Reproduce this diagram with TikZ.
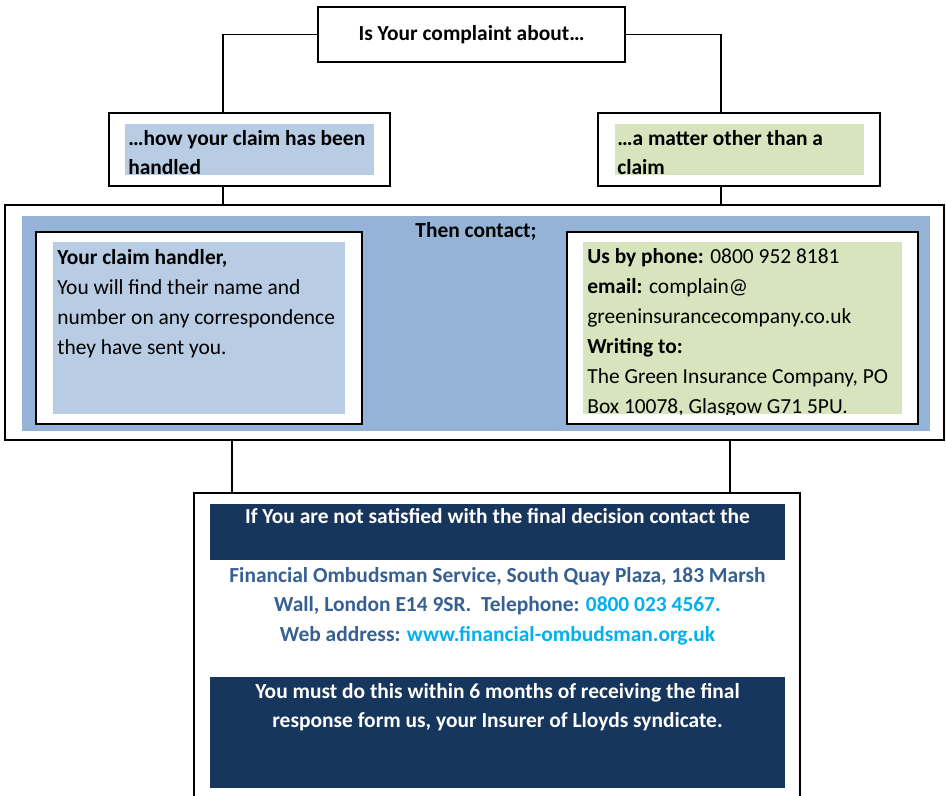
\documentclass[tikz,border=0pt]{standalone}
\usepackage{fontspec}
\setmainfont{Carlito}

\definecolor{midblue}{HTML}{95B3D7}
\definecolor{paleblue}{HTML}{B8CCE4}
\definecolor{palegreen}{HTML}{D7E4BD}
\definecolor{navy}{HTML}{17365D}
\definecolor{fosblue}{HTML}{376092}
\definecolor{fossky}{HTML}{00B0F0}

\begin{document}
\begin{tikzpicture}[x=0.02cm,y=-0.02cm,
  box/.style={draw, line width=1.1pt, fill=white, inner sep=0pt},
  pane/.style={inner sep=0pt},
  txt/.style={anchor=base west, inner sep=0pt, font=\fontsize{12.2}{14}\selectfont},
  ctxt/.style={anchor=base, inner sep=0pt, font=\fontsize{12.2}{14}\selectfont\bfseries},
  link/.style={line width=0.9pt}]
\useasboundingbox (0,0) rectangle (946,795);
%
% question
\node[box, minimum width=6.14cm, minimum height=1.1cm,
      font=\fontsize{12.2}{14}\selectfont\bfseries] (top) at (471.5,34.5) {Is Your complaint about…};

% the two answers
\node[box, minimum width=5.62cm, minimum height=1.46cm] (hand) at (249.5,149.5) {};
\node[pane, fill=paleblue, minimum width=4.98cm, minimum height=1.02cm] (handfill) at (249.5,149.5) {};
\node[txt, font=\fontsize{12.2}{14}\selectfont\bfseries] (hand1) at (128,145) {…how your claim has been};
\node[txt, font=\fontsize{12.2}{14}\selectfont\bfseries] (hand2) at (128,174) {handled};

\node[box, minimum width=5.64cm, minimum height=1.46cm] (other) at (739,149.5) {};
\node[pane, fill=palegreen, minimum width=4.98cm, minimum height=1.02cm] (otherfill) at (739.5,149.5) {};
\node[txt, font=\fontsize{12.2}{14}\selectfont\bfseries] (other1) at (617,145) {…a matter other than a};
\node[txt, font=\fontsize{12.2}{14}\selectfont\bfseries] (other2) at (617,174) {claim};

% then contact
\node[box, minimum width=18.78cm, minimum height=4.7cm] (mid) at (474.5,322.5) {};
\node[pane, fill=midblue, minimum width=18.16cm, minimum height=4.3cm] (midfill) at (476,323.5) {};
\node[ctxt] (then) at (476,237) {Then contact;};

% claim handler
\node[box, minimum width=6.52cm, minimum height=3.84cm] (ch) at (199,328) {};
\node[pane, fill=paleblue, minimum width=5.84cm, minimum height=3.44cm] (chfill) at (199,328) {};
\node[txt, font=\fontsize{12.2}{14}\selectfont\bfseries] (ch0) at (57,264) {Your claim handler,};
\foreach \t [count=\i] in {You will find their name and, number on any correspondence, they have sent you.}
  \node[txt] (ch\i) at (57,264+30*\i) {\t};

% us
\node[box, minimum width=7.02cm, minimum height=3.84cm] (us) at (742.5,328) {};
\node[pane, fill=palegreen, minimum width=6.38cm, minimum height=3.44cm] (usfill) at (742.5,328) {};
\begin{scope}
\clip (usfill.south west) rectangle (usfill.north east);
\node[txt] (us1) at (587,263) {\textbf{Us by phone:} 0800 952 8181};
\node[txt] (us2) at (587,293) {\textbf{email:} complain@};
\node[txt] (us3) at (587,323) {greeninsurancecompany.co.uk};
\node[txt] (us4) at (587,353) {\textbf{Writing to:}};
\node[txt] (us5) at (587,383) {The Green Insurance Company, PO};
\node[txt] (us6) at (587,413) {Box 10078, Glasgow G71 5PU.};
\end{scope}

% ombudsman
\node[box, minimum width=12.12cm, minimum height=6.74cm] (fos) at (497,661.5) {};
\node[pane, fill=navy, minimum width=11.5cm, minimum height=1.12cm] (navy1) at (497.5,532) {};
\node[ctxt, text=white] (fos0) at (497.5,523) {If You are not satisfied with the final decision contact the};
\node[ctxt, text=fosblue] (fos1) at (497.5,582) {Financial Ombudsman Service, South Quay Plaza, 183 Marsh};
\node[ctxt, text=fosblue] (fos2) at (497.5,611) {Wall, London E14 9SR.\ \ Telephone: \textcolor{fossky}{0800 023 4567.}};
\node[ctxt, text=fosblue] (fos3) at (497.5,641) {Web address: \textcolor{fossky}{www.financial-ombudsman.org.uk}};
\node[pane, fill=navy, minimum width=11.5cm, minimum height=2.22cm] (navy2) at (497.5,732.5) {};
\node[ctxt, text=white] (fos4) at (497.5,698) {You must do this within 6 months of receiving the final};
\node[ctxt, text=white] (fos5) at (497.5,727) {response form us, your Insurer of Lloyds syndicate.};

% connectors
\coordinate (cL) at (223,0); \coordinate (cR) at (721,0);
\coordinate (dL) at (232,0); \coordinate (dR) at (730,0);
\draw[link] (top.west) -| (cL |- hand.north);
\draw[link] (top.east) -| (cR |- other.north);
\draw[link] (cL |- hand.south) -- (cL |- mid.north);
\draw[link] (cR |- other.south) -- (cR |- mid.north);
\draw[link] (dL |- mid.south) -- (dL |- fos.north);
\draw[link] (dR |- mid.south) -- (dR |- fos.north);
\end{tikzpicture}
\end{document}
